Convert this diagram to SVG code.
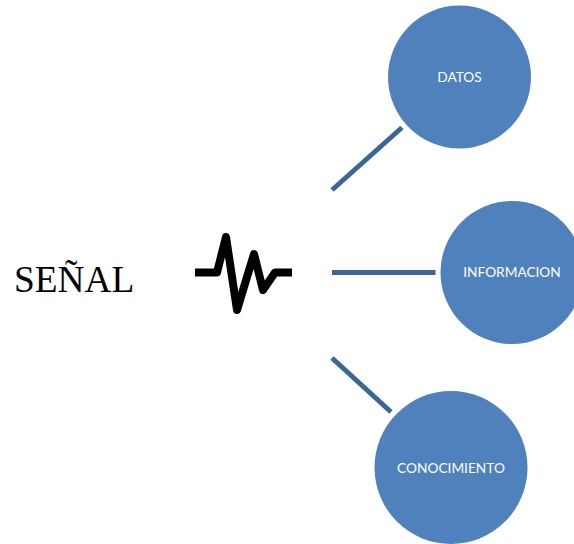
<svg xmlns="http://www.w3.org/2000/svg" width="574" height="544" viewBox="0 0 574 544">
<style>
.node{fill:#4f81bd}
.label{font-family:"Lato","Carlito","Liberation Sans",sans-serif;font-size:13.700px;fill:#fff;text-anchor:middle}
.conn{stroke:#3c6696;stroke-width:5;fill:none}
</style>
<rect width="574" height="544" fill="#fff"/>
<g id="connectors">
<line class="conn" x1="332" y1="190" x2="402" y2="127.500"/>
<line class="conn" x1="332" y1="272.500" x2="435.500" y2="272.500"/>
<line class="conn" x1="332" y1="358" x2="391" y2="412"/>
</g>
<g id="senal">
<text x="14" y="291.500" font-family="Liberation Serif, serif" font-size="37.300" fill="#000">SEÑAL</text>
</g>
<g id="pulse">
<path d="M195 272.500H217L226 237L237 310L254 254L263 290L275 272.500H292" fill="none" stroke="#000" stroke-width="8" stroke-linejoin="round"/>
</g>
<g id="datos">
<circle class="node" cx="459.500" cy="77" r="71.500"/>
<text class="label" x="459.500" y="82">DATOS</text>
</g>
<g id="informacion">
<circle class="node" cx="512" cy="272.500" r="71.500"/>
<text class="label" x="512" y="277">INFORMACION</text>
</g>
<g id="conocimiento">
<circle class="node" cx="451" cy="467.500" r="76.500"/>
<text class="label" x="451" y="472.500">CONOCIMIENTO</text>
</g>
</svg>
